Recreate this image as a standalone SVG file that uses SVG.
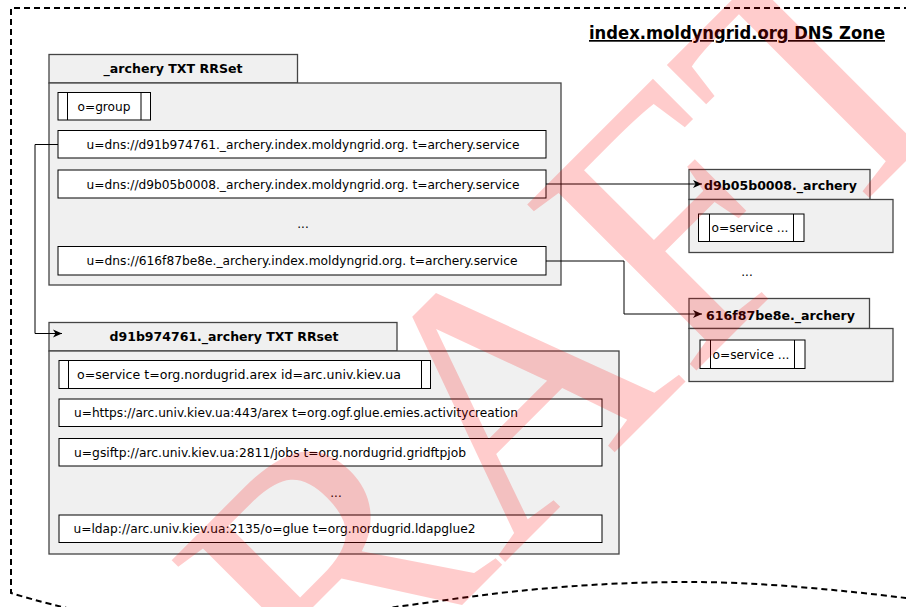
<svg xmlns="http://www.w3.org/2000/svg" width="906" height="607" viewBox="0 0 906 607">
<defs>
<style>
.zone{fill:none;stroke:#000;stroke-width:2;stroke-dasharray:6 4}
.body{fill:#f0f0f0;stroke:#444;stroke-width:1.3}
.row{fill:#fff;stroke:#000;stroke-width:1}
.t{font-family:"DejaVu Sans","Liberation Sans",sans-serif;font-size:12px;fill:#000}
.b{font-family:"DejaVu Sans","Liberation Sans",sans-serif;font-size:13px;font-weight:bold;fill:#000}
.conn{fill:none;stroke:#000;stroke-width:1}
.wm{font-family:"Liberation Serif","DejaVu Serif",serif;font-size:362px;fill:#ff0000;fill-opacity:0.2}
</style>
<marker id="arr" markerUnits="userSpaceOnUse" markerWidth="10" markerHeight="9" refX="9" refY="4.5" orient="auto">
<path d="M0,0.5 L9,4.5 L0,8.5 L2.5,4.5 Z" fill="#000"/>
</marker>
</defs>
<rect width="906" height="607" fill="#fff"/>
<g id="zone">
<path class="zone" d="M930,8 H11 V593 C60,608 130,625 210,625 C290,625 400,605 500,593 C580,584 640,582 690,582 C760,582 840,590 906,598 L935,603"/>
<text x="885" y="39" text-anchor="end" font-family="DejaVu Sans, sans-serif" font-size="17" font-weight="bold" text-decoration="underline" textLength="296" lengthAdjust="spacingAndGlyphs">index.moldyngrid.org DNS Zone</text>
</g>
<g id="archery-rrset">
<rect class="body" x="49" y="54.5" width="248.5" height="28.5"/>
<rect class="body" x="49" y="83" width="512" height="202"/>
<text class="b" x="173" y="72.5" text-anchor="middle" textLength="139" lengthAdjust="spacingAndGlyphs">_archery TXT RRSet</text>
<rect class="row" x="58" y="92.5" width="92.5" height="27.5"/>
<path class="row" d="M67.5,92.5 V120 M141,92.5 V120"/>
<text class="t" x="104" y="110.5" text-anchor="middle" textLength="53" lengthAdjust="spacingAndGlyphs">o=group</text>
<rect class="row" x="58" y="130.5" width="488" height="27.5"/>
<text class="t" x="303" y="148.5" text-anchor="middle" textLength="433" lengthAdjust="spacingAndGlyphs">u=dns://d91b974761._archery.index.moldyngrid.org. t=archery.service</text>
<rect class="row" x="58" y="170" width="488" height="28"/>
<text class="t" x="303" y="188.5" text-anchor="middle" textLength="433" lengthAdjust="spacingAndGlyphs">u=dns://d9b05b0008._archery.index.moldyngrid.org. t=archery.service</text>
<text class="t" x="303" y="228" text-anchor="middle">...</text>
<rect class="row" x="58" y="246.5" width="488" height="28.5"/>
<text class="t" x="302" y="265" text-anchor="middle" textLength="431" lengthAdjust="spacingAndGlyphs">u=dns://616f87be8e._archery.index.moldyngrid.org. t=archery.service</text>
</g>
<g id="d91b974761-rrset">
<rect class="body" x="49" y="322.5" width="348" height="28.5"/>
<rect class="body" x="49" y="351" width="570" height="203"/>
<text class="b" x="224" y="340.5" text-anchor="middle" textLength="229" lengthAdjust="spacingAndGlyphs">d91b974761._archery TXT RRset</text>
<rect class="row" x="59" y="360.5" width="371.5" height="28"/>
<path class="row" d="M68.5,360.5 V388.5 M421.5,360.5 V388.5"/>
<text class="t" x="239" y="379" text-anchor="middle" textLength="324" lengthAdjust="spacingAndGlyphs">o=service t=org.nordugrid.arex id=arc.univ.kiev.ua</text>
<rect class="row" x="59" y="399" width="543" height="27.5"/>
<text class="t" x="74" y="417" textLength="444" lengthAdjust="spacingAndGlyphs">u=https://arc.univ.kiev.ua:443/arex t=org.ogf.glue.emies.activitycreation</text>
<rect class="row" x="59" y="438.5" width="543" height="27.5"/>
<text class="t" x="74" y="456.5" textLength="392" lengthAdjust="spacingAndGlyphs">u=gsiftp://arc.univ.kiev.ua:2811/jobs t=org.nordugrid.gridftpjob</text>
<text class="t" x="336" y="496.5" text-anchor="middle">...</text>
<rect class="row" x="59" y="515" width="543" height="27.5"/>
<text class="t" x="73.5" y="533" textLength="402" lengthAdjust="spacingAndGlyphs">u=ldap://arc.univ.kiev.ua:2135/o=glue t=org.nordugrid.ldapglue2</text>
</g>
<g id="d9b05b0008">
<rect class="body" x="689" y="169.5" width="181" height="30"/>
<rect class="body" x="689" y="199.5" width="204" height="53"/>
<text class="b" x="704" y="190" textLength="153" lengthAdjust="spacingAndGlyphs">d9b05b0008._archery</text>
<rect class="row" x="698.5" y="214" width="105.5" height="27.5"/>
<path class="row" d="M709.5,214 V241.5 M793.5,214 V241.5"/>
<text class="t" x="711.5" y="232" textLength="77" lengthAdjust="spacingAndGlyphs">o=service ...</text>
</g>
<text id="more" class="t" x="747" y="276" text-anchor="middle">...</text>
<g id="616f87be8e">
<rect class="body" x="689" y="298.5" width="180.5" height="30"/>
<rect class="body" x="689" y="328.5" width="204" height="53"/>
<text class="b" x="706" y="320" textLength="149" lengthAdjust="spacingAndGlyphs">616f87be8e._archery</text>
<rect class="row" x="700" y="340" width="105" height="28.5"/>
<path class="row" d="M710.5,340 V368.5 M794.5,340 V368.5"/>
<text class="t" x="712.5" y="358.5" textLength="77" lengthAdjust="spacingAndGlyphs">o=service ...</text>
</g>
<g id="connectors">
<path class="conn" d="M58,144.5 H35 V333.5 H62" marker-end="url(#arr)"/>
<path class="conn" d="M546,184 H702" marker-end="url(#arr)"/>
<path class="conn" d="M546,261 H624 V314 H702" marker-end="url(#arr)"/>
</g>
<text class="wm" transform="translate(147,920) rotate(-45)" x="0" y="0">DRAFT</text>
</svg>
